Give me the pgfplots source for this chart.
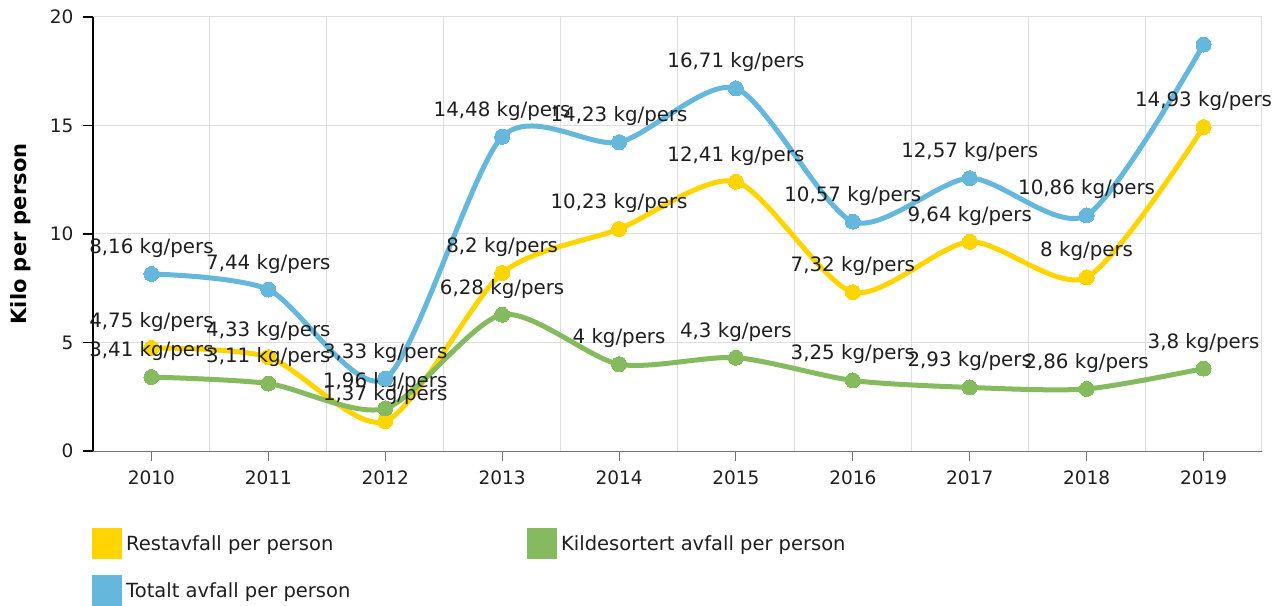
\documentclass[border=0pt]{standalone}
\usepackage{pgfplots}
\pgfplotsset{compat=1.18}
\usepackage{fontspec}
\setmainfont{DejaVu Sans}
\definecolor{yel}{RGB}{255,213,0}
\definecolor{grn}{RGB}{134,186,94}
\definecolor{blu}{RGB}{101,183,220}
\definecolor{txt}{RGB}{30,30,30}
\begin{document}
\begin{tikzpicture}
\begin{axis}[
  at={(0pt,0pt)}, anchor=south west,
  scale only axis, width=1169pt, height=434pt,
  xmin=-0.5, xmax=9.5, ymin=0, ymax=20,
  xtick={0,...,9},
  xticklabels={2010,2011,2012,2013,2014,2015,2016,2017,2018,2019},
  minor xtick={-0.5,0.5,1.5,2.5,3.5,4.5,5.5,6.5,7.5,8.5,9.5},
  ytick={0,5,10,15,20},
  xmajorgrids=false, xminorgrids=true, ymajorgrids=true,
  grid style={draw=black!13, line width=1pt},
  minor grid style={draw=black!13, line width=1pt},
  axis x line*=bottom, axis y line*=left,
  x axis line style={draw=black!55, line width=1pt, -},
  y axis line style={draw=black, line width=1.3pt, -},
  tick align=outside,
  major tick length=10pt, minor tick length=0pt,
  xtick style={draw=black!55, line width=1pt},
  ytick style={draw=black, line width=1.3pt},
  every tick label/.append style={font=\fontsize{18.5}{22}\selectfont, text=txt},
  xticklabel style={yshift=-6pt},
  yticklabel style={xshift=-6pt},
  /pgf/number format/assume math mode=true,
  ylabel={\bfseries Kilo per person},
  ylabel style={at={(axis description cs:-0.0616,0.5)}, anchor=center, font=\fontsize{21}{24}\selectfont, text=black},
  clip=false,
  nodes near coords,
  point meta=explicit symbolic,
  every node near coord/.style={anchor=center, yshift=26pt, inner sep=0pt, font=\fontsize{19.8}{22}\selectfont, text=txt},
  legend columns=2,
  legend style={draw=none, fill=none, at={(0,0)}, anchor=north west, xshift=-1pt, yshift=-77pt,
    inner sep=0pt, row sep=16pt, font=\fontsize{19.5}{22}\selectfont, text=txt,
    nodes={inner sep=0pt},
    /tikz/every odd column/.append style={column sep=4pt}},
  legend cell align=left,
]
\addplot[color=yel, line width=5pt, smooth, tension=0.45, mark=*, mark size=7.5pt, mark options={line width=0pt},
  legend image code/.code={\fill[yel] (0pt,-13pt) rectangle (25pt,13pt);}]
 coordinates {
 (0,4.75) [4,75 kg/pers]
 (1,4.33) [4,33 kg/pers]
 (2,1.37) [1,37 kg/pers]
 (3,8.2) [8,2 kg/pers]
 (4,10.23) [10,23 kg/pers]
 (5,12.41) [12,41 kg/pers]
 (6,7.32) [7,32 kg/pers]
 (7,9.64) [9,64 kg/pers]
 (8,8) [8 kg/pers]
 (9,14.93) [14,93 kg/pers]
 };
\addlegendentry{\makebox[401pt][l]{Restavfall per person}}
\addplot[color=grn, line width=5pt, smooth, tension=0.45, mark=*, mark size=7.5pt, mark options={line width=0pt},
  legend image code/.code={\fill[grn] (0pt,-13pt) rectangle (25pt,13pt);}]
 coordinates {
 (0,3.41) [3,41 kg/pers]
 (1,3.11) [3,11 kg/pers]
 (2,1.96) [1,96 kg/pers]
 (3,6.28) [6,28 kg/pers]
 (4,4) [4 kg/pers]
 (5,4.3) [4,3 kg/pers]
 (6,3.25) [3,25 kg/pers]
 (7,2.93) [2,93 kg/pers]
 (8,2.86) [2,86 kg/pers]
 (9,3.8) [3,8 kg/pers]
 };
\addlegendentry{Kildesortert avfall per person}
\addplot[color=blu, line width=5pt, smooth, tension=0.45, mark=*, mark size=7.5pt, mark options={line width=0pt},
  legend image code/.code={\fill[blu] (0pt,-13pt) rectangle (25pt,13pt);}]
 coordinates {
 (0,8.16) [8,16 kg/pers]
 (1,7.44) [7,44 kg/pers]
 (2,3.33) [3,33 kg/pers]
 (3,14.48) [14,48 kg/pers]
 (4,14.23) [14,23 kg/pers]
 (5,16.71) [16,71 kg/pers]
 (6,10.57) [10,57 kg/pers]
 (7,12.57) [12,57 kg/pers]
 (8,10.86) [10,86 kg/pers]
 (9,18.73) []
 };
\addlegendentry{Totalt avfall per person}
\end{axis}
\pgfresetboundingbox
\path (-93pt,-154pt) rectangle (1194pt,451pt);
\end{tikzpicture}
\end{document}
